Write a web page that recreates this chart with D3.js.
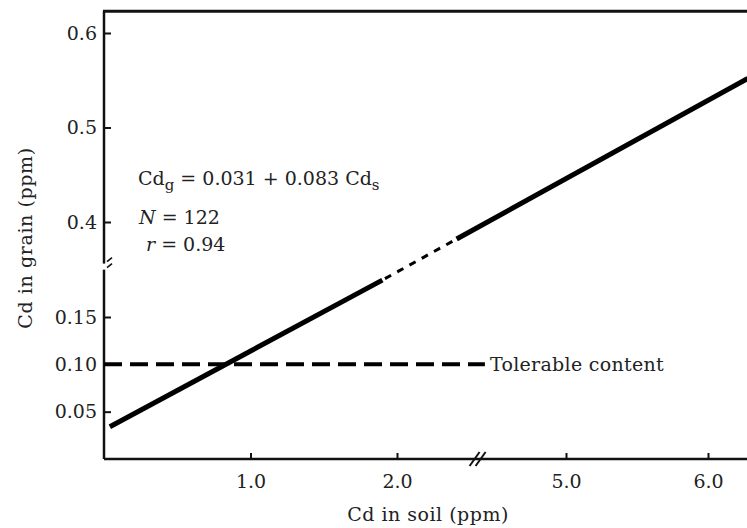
<!DOCTYPE html>
<html>
<head>
<meta charset="utf-8">
<script src="https://cdn.jsdelivr.net/npm/d3@7"></script>
<style>
  body { margin: 0; background: #fff; }
  text { font-family: "DejaVu Serif", "Liberation Serif", serif; fill: #222; }
</style>
</head>
<body>
<div id="chart"></div>
<script>
  // tick values for each side of the axis breaks
  const xTicksLow = [1.0, 2.0];
  const xTicksHigh = [5.0, 6.0];
  const yTicksLow = [0.05, 0.10, 0.15];
  const yTicksHigh = [0.4, 0.5, 0.6];

  // regression line (soil, grain)
  const lowerLine = [[0.04, 0.034], [1.9, 0.189]];
  const upperLine = [[4.23, 0.382], [6.28, 0.552]];
  const tolerable = 0.10;
  const tolerableEnd = 2.6;

  const equation = { lead: "Cd", sub1: "g", mid: " = 0.031 + 0.083 Cd", sub2: "s" };
  const nText = "122";
  const rText = "0.94";

  const width = 747, height = 528;
  const fontSize = "19px";

  const svg = d3.select("#chart")
    .append("svg")
    .attr("width", width)
    .attr("height", height)
    .attr("viewBox", `0 0 ${width} ${height}`);

  const xLow = d3.scaleLinear().domain([0, 2]).range([104, 397]);
  const xHigh = d3.scaleLinear().domain([5, 6]).range([566, 708]);
  const yLow = d3.scaleLinear().domain([0, 0.15]).range([459, 317]);
  const yHigh = d3.scaleLinear().domain([0.4, 0.6]).range([222, 33]);

  const xBreak = xLow(2.55);
  const axisColor = "#111";

  // frame: bottom axis, top border, left axis in two pieces
  svg.append("line")
    .attr("x1", xLow(0)).attr("x2", width)
    .attr("y1", yLow(0)).attr("y2", yLow(0))
    .attr("stroke", axisColor).attr("stroke-width", 2.5);
  svg.append("line")
    .attr("x1", xLow(0) - 1).attr("x2", width)
    .attr("y1", yHigh(0.623)).attr("y2", yHigh(0.623))
    .attr("stroke", axisColor).attr("stroke-width", 3);
  svg.append("line")
    .attr("x1", xLow(0)).attr("x2", xLow(0))
    .attr("y1", yHigh(0.623)).attr("y2", yHigh(0.356))
    .attr("stroke", axisColor).attr("stroke-width", 2.5);
  svg.append("line")
    .attr("x1", xLow(0)).attr("x2", xLow(0))
    .attr("y1", yLow(0.2)).attr("y2", yLow(0))
    .attr("stroke", axisColor).attr("stroke-width", 2.5);

  // break marks
  const yb = yHigh(0.356);
  [0, 6].forEach(d => {
    svg.append("line")
      .attr("x1", xLow(0) + 3).attr("y1", yb + d - 2)
      .attr("x2", xLow(0) + 8).attr("y2", yb + d - 6)
      .attr("stroke", axisColor).attr("stroke-width", 1.6);
  });
  [-3, 3].forEach(d => {
    svg.append("line")
      .attr("x1", xBreak + d - 5).attr("y1", yLow(0) + 7)
      .attr("x2", xBreak + d + 5).attr("y2", yLow(0) - 7)
      .attr("stroke", axisColor).attr("stroke-width", 2);
  });

  function styleAxis(g) {
    g.select(".domain").remove();
    g.selectAll(".tick line").attr("stroke", axisColor).attr("stroke-width", 2);
    g.selectAll(".tick text")
      .style("font-family", '"DejaVu Serif", serif')
      .style("font-size", fontSize)
      .attr("fill", "#222");
  }

  const fmt1 = d3.format(".1f");
  const fmt2 = d3.format(".2f");

  svg.append("g")
    .attr("transform", `translate(0,${yLow(0)})`)
    .call(d3.axisBottom(xLow).tickValues(xTicksLow).tickFormat(fmt1)
      .tickSizeInner(-6).tickSizeOuter(0).tickPadding(16))
    .call(styleAxis);
  svg.append("g")
    .attr("transform", `translate(0,${yLow(0)})`)
    .call(d3.axisBottom(xHigh).tickValues(xTicksHigh).tickFormat(fmt1)
      .tickSizeInner(-6).tickSizeOuter(0).tickPadding(16))
    .call(styleAxis);
  svg.append("g")
    .attr("transform", `translate(${xLow(0)},0)`)
    .call(d3.axisLeft(yLow).tickValues(yTicksLow).tickFormat(fmt2)
      .tickSizeInner(-7).tickSizeOuter(0).tickPadding(7))
    .call(styleAxis);
  svg.append("g")
    .attr("transform", `translate(${xLow(0)},0)`)
    .call(d3.axisLeft(yHigh).tickValues(yTicksHigh).tickFormat(fmt1)
      .tickSizeInner(-7).tickSizeOuter(0).tickPadding(7))
    .call(styleAxis);

  // tolerable content line
  svg.append("line")
    .attr("x1", xLow(0)).attr("x2", xLow(tolerableEnd))
    .attr("y1", yLow(tolerable)).attr("y2", yLow(tolerable))
    .attr("stroke", "#000").attr("stroke-width", 4)
    .attr("stroke-dasharray", "18 8");
  svg.append("text")
    .attr("x", xLow(tolerableEnd) + 5)
    .attr("y", yLow(tolerable))
    .attr("dy", "0.36em")
    .style("font-size", fontSize)
    .style("letter-spacing", "0.3px")
    .text("Tolerable content");

  // regression line
  const lowLine = d3.line().x(d => xLow(d[0])).y(d => yLow(d[1]));
  const highLine = d3.line().x(d => xHigh(d[0])).y(d => yHigh(d[1]));

  svg.append("path")
    .attr("d", lowLine(lowerLine))
    .attr("fill", "none").attr("stroke", "#000").attr("stroke-width", 5);
  svg.append("path")
    .attr("d", highLine(upperLine))
    .attr("fill", "none").attr("stroke", "#000").attr("stroke-width", 5);
  const a = lowerLine[1], b = upperLine[0];
  svg.append("line")
    .attr("x1", xLow(a[0])).attr("y1", yLow(a[1]))
    .attr("x2", xHigh(b[0])).attr("y2", yHigh(b[1]))
    .attr("stroke", "#000").attr("stroke-width", 3)
    .attr("stroke-dasharray", "7 7").attr("stroke-dashoffset", -3);

  // annotation
  const eq = svg.append("text").attr("x", 138).attr("y", 185).style("font-size", fontSize);
  eq.append("tspan").text(equation.lead);
  eq.append("tspan").attr("dy", 5).style("font-size", "15px").text(equation.sub1);
  eq.append("tspan").attr("dy", -5).text(equation.mid);
  eq.append("tspan").attr("dy", 5).style("font-size", "15px").text(equation.sub2);

  const nt = svg.append("text").attr("x", 139).attr("y", 224).style("font-size", fontSize);
  nt.append("tspan").style("font-style", "italic").text("N");
  nt.append("tspan").text(" = " + nText);

  const rt = svg.append("text").attr("x", 146).attr("y", 251).style("font-size", fontSize);
  rt.append("tspan").style("font-style", "italic").text("r");
  rt.append("tspan").text(" = " + rText);

  // axis titles
  svg.append("text")
    .attr("x", 428).attr("y", 521)
    .attr("text-anchor", "middle")
    .style("font-size", fontSize)
    .style("letter-spacing", "0.5px")
    .text("Cd in soil (ppm)");
  svg.append("text")
    .attr("transform", "translate(32,238) rotate(-90)")
    .attr("text-anchor", "middle")
    .style("font-size", fontSize)
    .style("letter-spacing", "0.6px")
    .text("Cd in grain (ppm)");
</script>
</body>
</html>
